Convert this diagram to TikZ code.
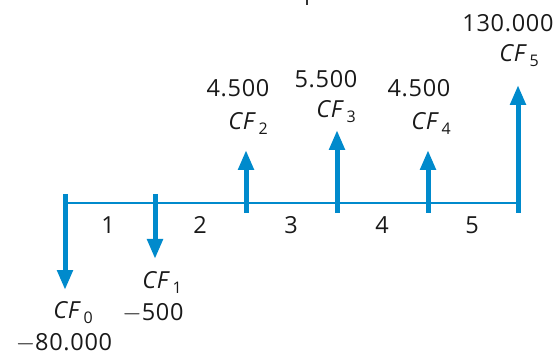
\documentclass[tikz,border=0pt]{standalone}
\usepackage{fontspec}
\setmainfont[LetterSpace=3]{Open Sans}
\usetikzlibrary{arrows.meta}
\definecolor{cfblue}{RGB}{0,138,204}
\newcommand{\cflab}[1]{\textit{CF}\hspace{2pt}\raisebox{-5pt}{\fontsize{16}{16}\selectfont #1}}
\tikzset{
  axisline/.style={cfblue, line width=2.6pt},
  cfarrow/.style={cfblue, line width=5pt, -{Triangle[width=15pt,length=20pt]}},
  lab/.style={font=\fontsize{23.5}{23.5}\selectfont, text=black!90, inner sep=0pt, anchor=center},
}
\begin{document}
\begin{tikzpicture}[x=1pt,y=-1pt]
\useasboundingbox (0,0) rectangle (559,355);
% axis
\coordinate (a0) at (65,203);
\coordinate (a5) at (518,203);
\draw[axisline] (a0) -- (a5);
% cash flow arrows
\coordinate (s0) at (65,194);  \coordinate (e0) at (65,290);
\coordinate (s1) at (155,194); \coordinate (e1) at (155,259);
\coordinate (s2) at (246,213); \coordinate (e2) at (246,150);
\coordinate (s3) at (337,213); \coordinate (e3) at (337,130);
\coordinate (s4) at (428,213); \coordinate (e4) at (428,150);
\coordinate (s5) at (518,213); \coordinate (e5) at (518,85);
\foreach \i in {0,...,5} { \draw[cfarrow] (s\i) -- (e\i); }
% period labels
\node[lab] (p1) at (108,225) {1};
\node[lab] (p2) at (200,225) {2};
\node[lab] (p3) at (291,225) {3};
\node[lab] (p4) at (382,225) {4};
\node[lab] (p5) at (472,225) {5};
% CF labels
\node[lab] (c0) at (73,313) {\cflab{0}};
\node[lab] (v0) at (64,343) {$-$80.000};
\node[lab] (c1) at (162,282) {\cflab{1}};
\node[lab] (v1) at (153,313) {$-$500};
\node[lab] (c2) at (248,123) {\cflab{2}};
\node[lab] (v2) at (238,88) {4.500};
\node[lab] (c3) at (336,112) {\cflab{3}};
\node[lab] (v3) at (326,79) {5.500};
\node[lab] (c4) at (431,123) {\cflab{4}};
\node[lab] (v4) at (419,88) {4.500};
\node[lab] (c5) at (519,56) {\cflab{5}};
\node[lab] (v5) at (508,23) {130.000};
% small mark at top edge
\coordinate (m0) at (307,0); \coordinate (m1) at (307,5);
\draw[black!80, line width=1.2pt] (m0) -- (m1);
\end{tikzpicture}
\end{document}
